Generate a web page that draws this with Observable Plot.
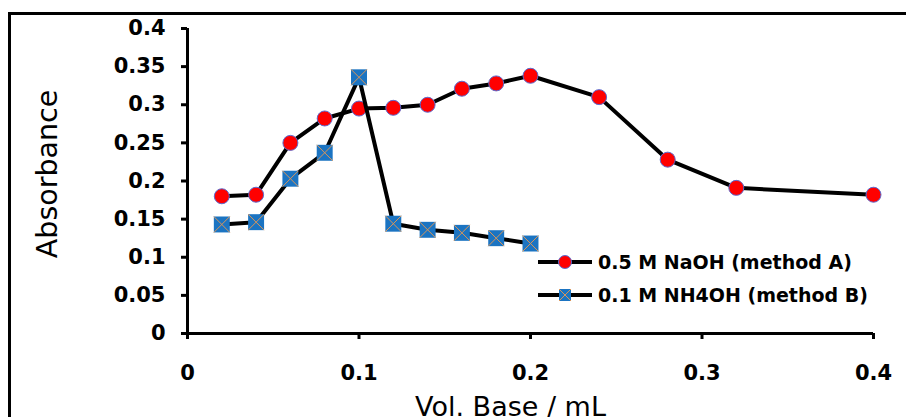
<!DOCTYPE html>
<html><head><meta charset="utf-8">
<script src="https://cdn.jsdelivr.net/npm/d3@7"></script>
<script src="https://cdn.jsdelivr.net/npm/@observablehq/plot@0.6"></script>
<style>
html,body{margin:0;padding:0;background:#fff;overflow:hidden;width:906px;height:417px}
#wrap{position:relative;width:906px;height:417px;overflow:hidden}
#chart{position:absolute;left:0;top:0}
#border{position:absolute;left:8px;top:12px;width:2000px;height:2000px;border:3.5px solid #000;box-sizing:border-box;pointer-events:none}
#legend{position:absolute;left:538px;top:245px;font-family:"DejaVu Sans";font-weight:bold;font-size:19px;color:#000}
.row{display:flex;align-items:center;height:33px;white-space:nowrap}
.row svg{display:block;margin-right:6px}
</style></head>
<body><div id="wrap"><div id="chart"></div><div id="border"></div><div id="legend"></div></div>
<script>
// Data
const volA = [0.02, 0.04, 0.06, 0.08, 0.10, 0.12, 0.14, 0.16, 0.18, 0.20, 0.24, 0.28, 0.32, 0.40];
const absA = [0.180, 0.182, 0.250, 0.282, 0.295, 0.296, 0.300, 0.321, 0.328, 0.338, 0.310, 0.228, 0.191, 0.182];
const volB = [0.02, 0.04, 0.06, 0.08, 0.10, 0.12, 0.14, 0.16, 0.18, 0.20];
const absB = [0.143, 0.146, 0.203, 0.237, 0.336, 0.144, 0.136, 0.132, 0.125, 0.118];
const seriesNames = ["0.5 M NaOH (method A)", "0.1 M NH4OH (method B)"];
const xTicks = [0, 0.1, 0.2, 0.3, 0.4];
const xTickLabels = ["0", "0.1", "0.2", "0.3", "0.4"];
const yTicks = [0, 0.05, 0.1, 0.15, 0.2, 0.25, 0.3, 0.35, 0.4];
const yTickLabels = ["0", "0.05", "0.1", "0.15", "0.2", "0.25", "0.3", "0.35", "0.4"];
const xTitle = "Vol. Base / mL";
const yTitle = "Absorbance";

const dataA = volA.map((v, i) => ({vol: v, abs: absA[i]}));
const dataB = volB.map((v, i) => ({vol: v, abs: absB[i]}));

const redFill = "#ff0000", redStroke = "#5b6bd0";
const blueFill = "#1b74c2", xStroke = "#d8955a";

const diagCross = {
  draw(context, size) {
    const h = Math.sqrt(size) / 2;
    context.moveTo(-h, -h); context.lineTo(h, h);
    context.moveTo(h, -h); context.lineTo(-h, h);
  }
};

const font = "DejaVu Sans";

const chart = Plot.plot({
  width: 906,
  height: 417,
  marginLeft: 187,
  marginRight: 33,
  marginTop: 28,
  marginBottom: 84,
  style: {fontFamily: font, background: "transparent", color: "#000", overflow: "visible"},
  x: {domain: [0, 0.4]},
  y: {domain: [0, 0.4]},
  marks: [
    Plot.axisY({ticks: yTicks, tickFormat: (d) => yTickLabels[yTicks.indexOf(d)], tickSize: 6, tickPadding: 16, strokeWidth: 3, fontSize: 21, fontWeight: "bold", label: null}),
    Plot.axisX({ticks: xTicks, tickFormat: (d) => xTickLabels[xTicks.indexOf(d)], tickSize: 6, tickPadding: 26, strokeWidth: 3, fontSize: 21, fontWeight: "bold", label: null}),
    Plot.ruleX([0], {stroke: "#000", strokeWidth: 3}),
    Plot.ruleY([0], {stroke: "#000", strokeWidth: 3}),
    Plot.text([yTitle], {frameAnchor: "left", textAnchor: "middle", lineAnchor: "middle", dx: -140, dy: -7, rotate: -90, fontSize: 28.5, fill: "#000"}),
    Plot.text([xTitle], {frameAnchor: "bottom", textAnchor: "middle", dx: -20, dy: 63, lineAnchor: "top", fontSize: 27, fill: "#000"}),
    Plot.line(dataA, {x: "vol", y: "abs", stroke: "#000", strokeWidth: 4}),
    Plot.dot(dataA, {x: "vol", y: "abs", r: 7.5, fill: redFill, stroke: redStroke, strokeWidth: 1}),
    Plot.line(dataB, {x: "vol", y: "abs", stroke: "#000", strokeWidth: 4}),
    Plot.dot(dataB, {x: "vol", y: "abs", symbol: "square", r: 9, fill: blueFill, stroke: "none"}),
    Plot.dot(dataB, {x: "vol", y: "abs", symbol: diagCross, r: 9, fill: "none", stroke: xStroke, strokeWidth: 1})
  ]
});
document.getElementById("chart").appendChild(chart);

// Legend
const legend = d3.select("#legend");
seriesNames.forEach((name, i) => {
  const row = legend.append("div").attr("class", "row");
  const svg = row.append("svg").attr("width", 54).attr("height", 20);
  svg.append("line").attr("x1", 0).attr("x2", 54).attr("y1", 10).attr("y2", 10).attr("stroke", "#000").attr("stroke-width", 4);
  if (i === 0) {
    svg.append("circle").attr("cx", 27).attr("cy", 10).attr("r", 6.5).attr("fill", redFill).attr("stroke", redStroke).attr("stroke-width", 1);
  } else {
    svg.append("rect").attr("x", 21).attr("y", 4).attr("width", 12).attr("height", 12).attr("fill", blueFill);
    svg.append("path").attr("d", "M21,4L33,16M33,4L21,16").attr("stroke", xStroke).attr("stroke-width", 1).attr("fill", "none");
  }
  row.append("span").text(name);
});
</script>
</body></html>
